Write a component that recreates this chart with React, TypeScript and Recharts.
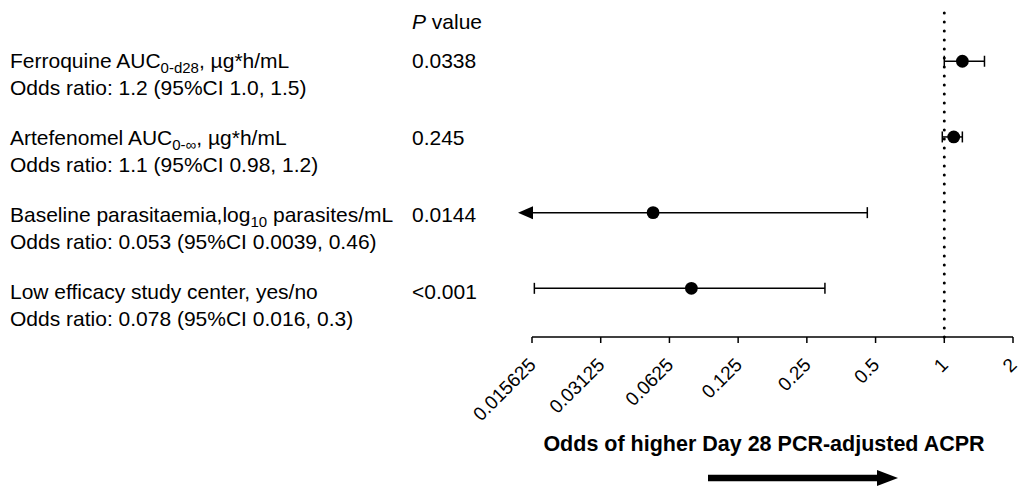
import React from 'react';
import { ComposedChart, Scatter, XAxis, YAxis, ErrorBar, ReferenceLine, ReferenceDot } from 'recharts';

const FONT = "'Liberation Sans', Arial, Helvetica, sans-serif";

// Row texts (top to bottom)
const LABEL_MAIN = ['Ferroquine AUC', 'Artefenomel AUC', 'Baseline parasitaemia,log', 'Low efficacy study center, yes/no'];
const LABEL_SUB = ['0-d28', '0-\u221E', '10', ''];
const LABEL_TAIL = [', \u00B5g*h/mL', ', \u00B5g*h/mL', ' parasites/mL', ''];
const ODDS_TEXT = [
  'Odds ratio: 1.2 (95%CI 1.0, 1.5)',
  'Odds ratio: 1.1 (95%CI 0.98, 1.2)',
  'Odds ratio: 0.053 (95%CI 0.0039, 0.46)',
  'Odds ratio: 0.078 (95%CI 0.016, 0.3)',
];
const P_VALUES = ['0.0338', '0.245', '0.0144', '<0.001'];

// Series values
const ODDS = [1.2, 1.1, 0.053, 0.078];
const CI_LOW = [1.0, 0.98, 0.0039, 0.016];
const CI_HIGH = [1.5, 1.2, 0.46, 0.3];

// Axis ticks
const X_TICKS = [0.015625, 0.03125, 0.0625, 0.125, 0.25, 0.5, 1, 2];
const X_TICK_LABELS = ['0.015625', '0.03125', '0.0625', '0.125', '0.25', '0.5', '1', '2'];
const X_MIN = X_TICKS[0];
const X_MAX = X_TICKS[X_TICKS.length - 1];

const N = ODDS.length;
const ROW_Y = ODDS.map((_, i) => N - i);

const data = ODDS.map((v, i) => {
  const lo = Math.max(CI_LOW[i], X_MIN);
  return { y: ROW_Y[i], or: v, err: [v - lo, CI_HIGH[i] - v], overflow: CI_LOW[i] < X_MIN };
});

const RowTick = (props: any) => {
  const { y, payload } = props;
  const i = ROW_Y.indexOf(payload.value);
  if (i < 0) return null;
  const y1 = y + 7 + i * 1.2;
  return (
    <g fontFamily={FONT} fill="#000">
      <text x={10} y={y1} fontSize={21} fill="#000">
        {LABEL_MAIN[i]}
        {LABEL_SUB[i] ? <tspan fontSize={15} dy={5}>{LABEL_SUB[i]}</tspan> : null}
        {LABEL_TAIL[i] ? <tspan fontSize={21} dy={LABEL_SUB[i] ? -5 : 0}>{LABEL_TAIL[i]}</tspan> : null}
      </text>
      <text x={10} y={y1 + 27} fontSize={21} fill="#000">{ODDS_TEXT[i]}</text>
      <text x={412} y={y1} fontSize={21} fill="#000">{P_VALUES[i]}</text>
    </g>
  );
};

const XTick = (props: any) => {
  const { x, y, payload } = props;
  const idx = X_TICKS.indexOf(payload.value);
  const label = idx >= 0 ? X_TICK_LABELS[idx] : String(payload.value);
  return (
    <g transform={`translate(${x + 5},${y + 21})`}>
      <text transform="rotate(-45)" textAnchor="end" fontFamily={FONT} fontSize={19} fill="#000">
        {label}
      </text>
    </g>
  );
};

const XTitle = (props: any) => {
  const vb = props.viewBox || { x: 0, y: 0, width: 0, height: 0 };
  const cx = vb.x + vb.width / 2 - 8.5;
  const ay = vb.y + 141;
  const ax0 = vb.x + 176;
  const ax1 = vb.x + 366;
  return (
    <g>
      <text x={cx} y={vb.y + 114} textAnchor="middle" fontFamily={FONT} fontSize={21.5} fontWeight="bold" fill="#000">
        Odds of higher Day 28 PCR-adjusted ACPR
      </text>
      <path d={`M${ax0},${ay - 3.2} L${ax1 - 21},${ay - 3.2} L${ax1 - 21},${ay - 8} L${ax1},${ay} L${ax1 - 21},${ay + 8} L${ax1 - 21},${ay + 3.2} L${ax0},${ay + 3.2} Z`} fill="#000" />
    </g>
  );
};

const PHeader = () => (
  <text x={412} y={29} fontFamily={FONT} fontSize={21} fill="#000">
    <tspan fontStyle="italic">P</tspan> value
  </text>
);

const Dot = (props: any) => <circle cx={props.cx} cy={props.cy} r={6.4} fill="#000" />;

const LeftArrow = (props: any) => {
  const { cx, cy } = props;
  return <path d={`M${cx - 14},${cy} L${cx + 1},${cy - 6.5} L${cx + 1},${cy + 6.5} Z`} fill="#000" />;
};

export default function App() {
  return (
    <div style={{ width: 1035, height: 487 }}>
      <style>{`body{margin:0;background:#fff}`}</style>
      <ComposedChart width={1035} height={487} data={data} margin={{ top: 10, right: 22, bottom: 0, left: 0 }}>
        <XAxis
          dataKey="or"
          type="number"
          scale="log"
          domain={[X_MIN, X_MAX]}
          ticks={X_TICKS}
          interval={0}
          allowDataOverflow
          height={150}
          tickSize={6}
          axisLine={{ stroke: '#000', strokeWidth: 1.5 }}
          tickLine={{ stroke: '#000', strokeWidth: 1.5 }}
          tick={<XTick />}
          label={<XTitle />}
        />
        <YAxis
          dataKey="y"
          type="number"
          domain={[0.357, 4.677]}
          ticks={ROW_Y}
          interval={0}
          width={532}
          axisLine={false}
          tickLine={false}
          tick={<RowTick />}
          label={<PHeader />}
        />
        <ReferenceLine x={1} stroke="#000" strokeWidth={3} strokeDasharray="0 9" strokeLinecap="round" />
        <Scatter dataKey="y" isAnimationActive={false} shape={<Dot />}>
          <ErrorBar dataKey="err" direction="x" width={5.5} stroke="#000" strokeWidth={1.5} isAnimationActive={false} />
        </Scatter>
        {data.filter((d) => d.overflow).map((d) => (
          <ReferenceDot key={d.y} x={X_MIN} y={d.y} ifOverflow="visible" shape={<LeftArrow />} />
        ))}
      </ComposedChart>
    </div>
  );
}
